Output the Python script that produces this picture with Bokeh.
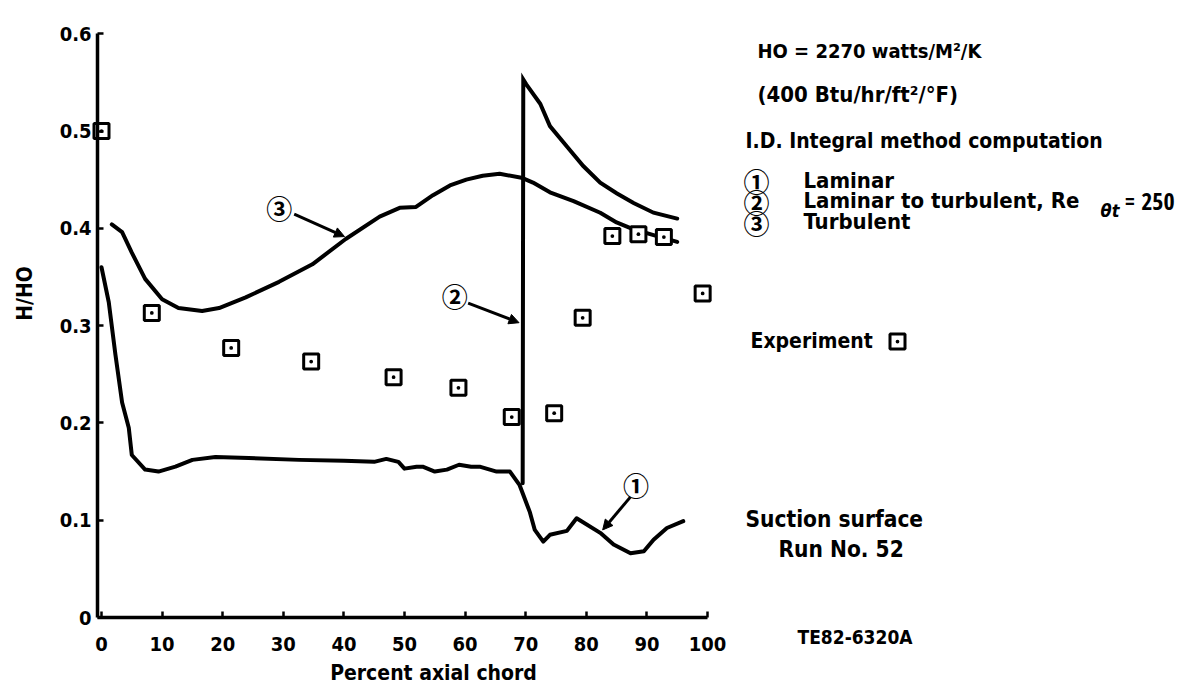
import math
from bokeh.plotting import figure
from bokeh.models import Range1d, Label, Arrow, NormalHead
from bokeh.embed import file_html
from bokeh.resources import INLINE

# ---------------- data ----------------
x_ticks = [0, 10, 20, 30, 40, 50, 60, 70, 80, 90, 100]
y_ticks = [0, 0.1, 0.2, 0.3, 0.4, 0.5, 0.6]
y_tick_labels = ["0", "0.1", "0.2", "0.3", "0.4", "0.5", "0.6"]

# (1) Laminar
lam_x = [0, 0.3, 1.2, 2.3, 3.4, 4.5, 5.0, 7.2, 9.4, 12.2, 15.0, 18.8, 24.3, 32.6, 40, 45, 47, 49, 50,
         52, 53, 55, 57, 59, 61, 62.4, 65.2, 67.4, 69, 70.7, 71.5, 72.9, 74, 76.8, 78.4, 82.3, 84.5,
         87.3, 89.5, 91.1, 93.3, 96]
lam_y = [0.36, 0.351, 0.324, 0.27, 0.221, 0.195, 0.167, 0.152, 0.15, 0.155, 0.162, 0.165, 0.164, 0.162,
         0.161, 0.16, 0.163, 0.16, 0.153, 0.155, 0.155, 0.15, 0.152, 0.157, 0.155, 0.155, 0.15, 0.15,
         0.136, 0.108, 0.09, 0.078, 0.085, 0.089, 0.102, 0.087, 0.075, 0.066, 0.068, 0.08, 0.092, 0.099]

# (2) Laminar to turbulent (after transition at ~69.5 %)
trans_x = [69.5, 69.6, 70.1, 72.4, 74.0, 76.8, 79.5, 82.3, 85.0, 87.8, 91.1, 95.0]
trans_y = [0.138, 0.553, 0.548, 0.528, 0.505, 0.484, 0.464, 0.447, 0.436, 0.426, 0.416, 0.41]

# (3) Turbulent
turb_x = [1.7, 3.4, 5.0, 7.2, 10.0, 12.7, 16.6, 19.4, 23.8, 29.3, 34.8, 40.3, 45.9, 49.2, 51.9, 54.7,
          57.5, 60.2, 62.9, 65.7, 69.3, 71.2, 74.0, 77.9, 82.3, 85.0, 87.8, 91.1, 95.0]
turb_y = [0.404, 0.396, 0.375, 0.348, 0.327, 0.318, 0.315, 0.318, 0.329, 0.345, 0.363, 0.389, 0.412,
          0.421, 0.422, 0.434, 0.444, 0.45, 0.454, 0.456, 0.452, 0.447, 0.437, 0.428, 0.416, 0.406,
          0.399, 0.393, 0.386]

# Experiment
exp_x = [0, 8.3, 21.4, 34.6, 48.2, 58.9, 67.7, 74.7, 79.4, 84.3, 88.6, 92.8, 99.2]
exp_y = [0.5, 0.313, 0.277, 0.263, 0.247, 0.236, 0.206, 0.21, 0.308, 0.392, 0.394, 0.391, 0.333]

# ---------------- layout / styling ----------------
FONT = "'DejaVu Sans Condensed', 'DejaVu Sans', sans-serif"
NARROW = "'Open Sans Condensed', 'DejaVu Sans Condensed', sans-serif"
CIRC_FONT = "'Noto Sans CJK JP', 'DejaVu Sans', sans-serif"
W, H = 1178, 688
X0_PX, XS = 101.0, 6.06      # page x of x=0, pixels per percent
Y0_PX, YS = 617.0, 973.0     # page y of y=0, pixels per unit H/HO

def fx(px):
    return (px - X0_PX) / XS

def fy(py):
    return (Y0_PX - py) / YS

p = figure(width=W, height=H, output_backend="svg", toolbar_location=None,
           x_range=Range1d(fx(0), fx(W)), y_range=Range1d(fy(H), fy(0)),
           min_border_left=0, min_border_right=0, min_border_top=0, min_border_bottom=0)
p.outline_line_color = None
p.grid.visible = False

for ax in (p.xaxis[0], p.yaxis[0]):
    ax.axis_line_width = 3.5
    ax.axis_line_color = "black"
    ax.major_tick_line_width = 2.5
    ax.major_tick_line_color = "black"
    ax.major_tick_in = 6
    ax.major_tick_out = 0
    ax.minor_tick_line_color = None
    ax.major_label_text_font = FONT
    ax.major_label_text_font_size = "20px"
    ax.major_label_text_font_style = "bold"
    ax.major_label_text_color = "black"

AXIS_X = fx(97)   # y axis line sits a little left of x = 0
p.xaxis.ticker = x_ticks
p.xaxis.fixed_location = 0
p.xaxis.bounds = (AXIS_X, 100)
p.xaxis.major_label_standoff = 19
p.yaxis.ticker = y_ticks
p.yaxis.major_label_overrides = {t: s for t, s in zip(y_ticks, y_tick_labels)}
p.yaxis.fixed_location = AXIS_X
p.yaxis.bounds = (0, 0.6)
p.yaxis.major_label_standoff = 6

lw = 4
p.line(lam_x, lam_y, line_width=lw, line_color="black", line_join="round", line_cap="round")
p.line(trans_x, trans_y, line_width=lw, line_color="black", line_join="miter", line_cap="round")
p.line(turb_x, turb_y, line_width=lw, line_color="black", line_join="round", line_cap="round")
p.scatter(exp_x, exp_y, marker="square_dot", size=15, line_width=3, line_color="black",
          fill_color="white")

def lab(s, x, y, size="22px", align="left", font=FONT, angle=0.0, style="bold"):
    p.add_layout(Label(x=x, y=y, text=s, text_font=font, text_font_size=size,
                       text_align=align, text_baseline="middle", text_color="black",
                       angle=angle, text_font_style=style))

def note(s, px, py, **kw):
    lab(s, fx(px), fy(py), **kw)

def circ(t, x, y, size="26px"):
    p.add_layout(Label(x=x, y=y, text=t, text_font=CIRC_FONT, text_font_size=size,
                       text_font_style="bold", text_align="center", text_baseline="middle",
                       text_color="black"))

def arrow(x0, y0, x1, y1):
    p.add_layout(Arrow(end=NormalHead(size=10, fill_color="black", line_color="black"),
                       x_start=x0, y_start=y0, x_end=x1, y_end=y1,
                       line_width=3, line_color="black"))

# curve call-outs (data units)
circ("③", 29.35, 0.421)
arrow(31.8, 0.4145, 40.1, 0.3915)
circ("②", 58.3, 0.331)
arrow(60.5, 0.323, 68.9, 0.303)
circ("①", 88.2, 0.137)
arrow(87.3, 0.124, 82.7, 0.09)

# axis titles
note("H/HO", 24, 293, size="21px", align="center", angle=math.pi / 2)
note("Percent axial chord", 433, 672, size="21px", align="center")

# notes on the right
note("HO = 2270 watts/M²/K", 757, 50, size="20px")
note("(400 Btu/hr/ft²/°F)", 757, 94, size="22px")
note("I.D. Integral method computation", 745, 140, size="21px")
circ("①", fx(756), fy(180), size="26px")
note("Laminar", 803, 180)
circ("②", fx(756), fy(201), size="26px")
note("Laminar to turbulent, Re", 803, 200)
note("θt", 1100, 210, size="18px", style="bold italic")
note("= 250", 1124, 200, size="24px", font=NARROW)
circ("③", fx(756), fy(222), size="26px")
note("Turbulent", 803, 221)
note("Experiment", 750, 340, size="21px")
p.scatter([fx(897)], [fy(341)], marker="square_dot", size=15, line_width=3, line_color="black",
          fill_color="white")
note("Suction surface", 745, 518, size="22.5px")
note("Run No. 52", 778, 548, size="22.5px")
note("TE82-6320A", 797, 636, size="19px")

open("out.html", "w").write(file_html(p, INLINE))
